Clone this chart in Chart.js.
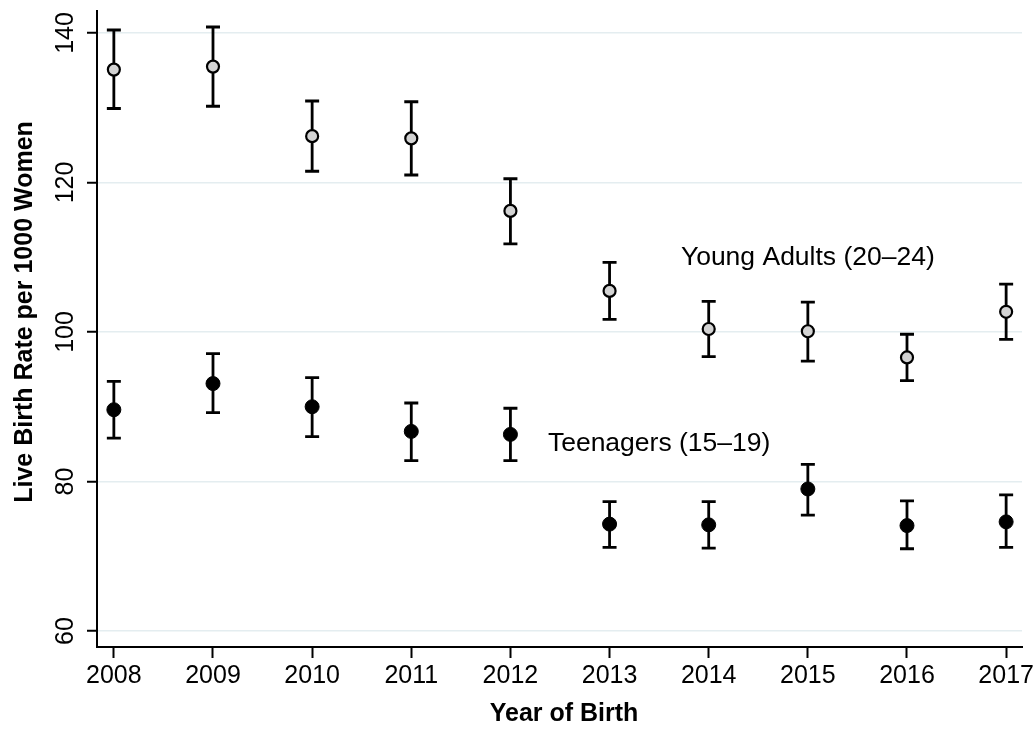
<!DOCTYPE html>
<html>
<head>
<meta charset="utf-8">
<script src="https://cdn.jsdelivr.net/npm/chart.js@4.4.1/dist/chart.umd.min.js"></script>
<style>
  html, body { margin: 0; padding: 0; background: #fff; }
  #wrap { width: 1036px; height: 734px; position: relative; }
</style>
</head>
<body>
<div id="wrap"><canvas id="chart"></canvas></div>
<script>
// years on the x axis
const years = [2008, 2009, 2010, 2011, 2012, 2013, 2014, 2015, 2016, 2017];
const yTicks = [60, 80, 100, 120, 140];

// Young adults (20-24): rate and 95% CI
const young = [135.1, 135.5, 126.2, 125.9, 116.2, 105.5, 100.4, 100.1, 96.6, 102.7];
const youngLow = [129.9, 130.2, 121.5, 121.0, 111.8, 101.7, 96.7, 96.1, 93.5, 99.0];
const youngHigh = [140.4, 140.8, 130.9, 130.8, 120.5, 109.3, 104.1, 104.0, 99.7, 106.4];

// Teenagers (15-19)
const teen = [89.6, 93.1, 90.0, 86.7, 86.3, 74.3, 74.2, 79.0, 74.1, 74.6];
const teenLow = [85.8, 89.2, 86.0, 82.8, 82.8, 71.2, 71.1, 75.5, 71.0, 71.2];
const teenHigh = [93.4, 97.1, 93.9, 90.5, 89.8, 77.3, 77.3, 82.3, 77.4, 78.2];

// in-plot series labels (data coords)
const seriesLabels = ['Young Adults (20\u201324)', 'Teenagers (15\u201319)'];
const labelYear = [2015, 2013.5];
const labelRate = [109, 84.1];

const FONT = '"Liberation Sans", Arial, Helvetica, sans-serif';

const errorBars = {
  id: 'errorBars',
  beforeDatasetsDraw(chart) {
    const { ctx, scales: { x, y } } = chart;
    const sets = [[youngLow, youngHigh], [teenLow, teenHigh]];
    ctx.save();
    ctx.strokeStyle = '#000';
    ctx.lineWidth = 2.8;
    sets.forEach(([lo, hi]) => {
      years.forEach((yr, i) => {
        const px = x.getPixelForValue(yr);
        const y1 = y.getPixelForValue(lo[i]);
        const y2 = y.getPixelForValue(hi[i]);
        ctx.beginPath();
        ctx.moveTo(px, y1); ctx.lineTo(px, y2);
        ctx.moveTo(px - 7, y1); ctx.lineTo(px + 7, y1);
        ctx.moveTo(px - 7, y2); ctx.lineTo(px + 7, y2);
        ctx.stroke();
      });
    });
    ctx.restore();
  }
};

const textLayer = {
  id: 'textLayer',
  afterDraw(chart) {
    const { ctx, scales: { x, y } } = chart;
    ctx.save();
    ctx.fillStyle = '#000';
    ctx.textBaseline = 'alphabetic';

    // x tick labels
    ctx.font = '25px ' + FONT;
    ctx.textAlign = 'center';
    years.forEach(yr => ctx.fillText(String(yr), x.getPixelForValue(yr), 683));

    // y tick labels, rotated
    yTicks.forEach(v => {
      ctx.save();
      ctx.translate(73, y.getPixelForValue(v));
      ctx.rotate(-Math.PI / 2);
      ctx.fillText(String(v), 0, 0);
      ctx.restore();
    });

    // axis titles
    ctx.font = 'bold 25px ' + FONT;
    ctx.fillText('Year of Birth', 564, 721);
    ctx.save();
    ctx.translate(32, 312);
    ctx.rotate(-Math.PI / 2);
    ctx.fillText('Live Birth Rate per 1000 Women', 0, 0);
    ctx.restore();

    // series labels
    ctx.font = '26.5px ' + FONT;
    seriesLabels.forEach((t, i) => {
      ctx.fillText(t, x.getPixelForValue(labelYear[i]), y.getPixelForValue(labelRate[i]));
    });
    ctx.restore();
  }
};

new Chart(document.getElementById('chart'), {
  type: 'scatter',
  data: {
    datasets: [
      {
        label: 'Young Adults (20-24)',
        data: years.map((yr, i) => ({ x: yr, y: young[i] })),
        pointRadius: 6,
        pointHoverRadius: 6,
        pointBackgroundColor: '#d3d3d3',
        pointBorderColor: '#000',
        pointBorderWidth: 2.2
      },
      {
        label: 'Teenagers (15-19)',
        data: years.map((yr, i) => ({ x: yr, y: teen[i] })),
        pointRadius: 7,
        pointHoverRadius: 7,
        pointBackgroundColor: '#000',
        pointBorderColor: '#000',
        pointBorderWidth: 1
      }
    ]
  },
  options: {
    responsive: true,
    maintainAspectRatio: false,
    animation: false,
    layout: { padding: { top: 11, right: 14, left: 0, bottom: 0 } },
    plugins: {
      legend: { display: false },
      tooltip: { enabled: false }
    },
    scales: {
      x: {
        type: 'linear',
        min: 2007.83,
        max: 2017.16,
        afterBuildTicks: s => { s.ticks = years.map(v => ({ value: v })); },
        afterFit: s => { s.height = 87; },
        ticks: { display: false },
        grid: {
          drawOnChartArea: false,
          drawTicks: true,
          tickLength: 11,
          tickColor: '#000',
          tickWidth: 2
        },
        border: { color: '#000', width: 2 }
      },
      y: {
        min: 57.86,
        max: 142.94,
        afterBuildTicks: s => { s.ticks = yTicks.map(v => ({ value: v })); },
        afterFit: s => { s.width = 97; },
        ticks: { display: false },
        grid: {
          color: '#e4edf0',
          lineWidth: 1.5,
          tickLength: 10,
          tickColor: '#000',
          tickWidth: 2
        },
        border: { color: '#000', width: 2 }
      }
    }
  },
  plugins: [errorBars, textLayer]
});
</script>
</body>
</html>
